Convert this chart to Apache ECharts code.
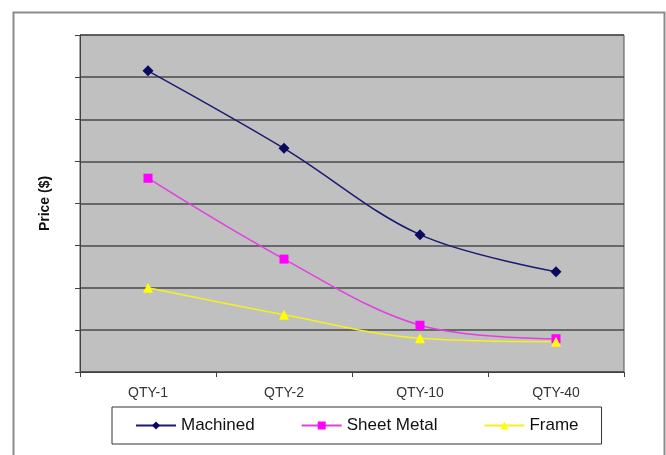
<!DOCTYPE html>
<html>
<head>
<meta charset="utf-8">
<script src="https://cdn.jsdelivr.net/npm/echarts@6/dist/echarts.min.js"></script>
<style>
html,body{margin:0;padding:0;background:#fff;}
#c{width:666px;height:455px;}
</style>
</head>
<body>
<div id="c"></div>
<script>
const categories = ['QTY-1', 'QTY-2', 'QTY-10', 'QTY-40'];
const machined = [7.15, 5.31, 3.26, 2.38];
const sheetMetal = [4.60, 2.68, 1.11, 0.79];
const frame = [2.00, 1.36, 0.80, 0.72];
const seriesNames = ['Machined', 'Sheet Metal', 'Frame'];
const yAxisTitle = 'Price ($)';

const chart = echarts.init(document.getElementById('c'), null, {renderer: 'canvas'});
const font = 'Arial, "Liberation Sans", sans-serif';
chart.setOption({
  animation: false,
  backgroundColor: '#fff',
  graphic: [{
    type: 'rect', left: 11, top: 10, silent: true,
    shape: {width: 651, height: 460},
    style: {fill: 'none', stroke: '#8c8c8c', lineWidth: 2}
  }],
  grid: {
    left: 80, right: 42, top: 35, bottom: 83,
    show: true, backgroundColor: '#c0c0c0', borderColor: '#505050', borderWidth: 1
  },
  legend: {
    left: 112, top: 407,
    padding: [10, 23, 10, 23],
    borderColor: '#333', borderWidth: 1,
    itemWidth: 40, itemHeight: 10, itemGap: 46,
    textStyle: {fontFamily: font, fontSize: 17, color: '#111'},
    data: seriesNames
  },
  xAxis: {
    type: 'category', data: categories, boundaryGap: true,
    axisLine: {lineStyle: {color: '#404040', width: 1}},
    axisTick: {show: true, length: 5, alignWithLabel: false, lineStyle: {color: '#404040'}},
    axisLabel: {fontFamily: font, fontSize: 14, color: '#333', margin: 14}
  },
  yAxis: {
    type: 'value', min: 0, max: 8, interval: 1,
    name: yAxisTitle, nameLocation: 'middle', nameGap: 28, nameRotate: 90,
    nameTextStyle: {fontFamily: font, fontSize: 14, fontWeight: 'bold', color: '#111'},
    axisLine: {show: true, lineStyle: {color: '#404040', width: 1}},
    axisTick: {show: true, length: 5, lineStyle: {color: '#404040'}},
    axisLabel: {show: false},
    splitLine: {show: true, lineStyle: {color: '#4a4a4a', width: 1.5}}
  },
  series: [
    {
      name: seriesNames[0], type: 'line', data: machined, smooth: 0.35,
      symbol: 'diamond', symbolSize: 11,
      lineStyle: {color: '#1a1a70', width: 1.5},
      itemStyle: {color: '#0a0a60'}
    },
    {
      name: seriesNames[1], type: 'line', data: sheetMetal, smooth: 0.35,
      symbol: 'rect', symbolSize: 9,
      lineStyle: {color: '#e040e0', width: 1.5},
      itemStyle: {color: '#ff00ff'}
    },
    {
      name: seriesNames[2], type: 'line', data: frame, smooth: 0.35,
      symbol: 'triangle', symbolSize: 10,
      lineStyle: {color: '#f5f020', width: 1.5},
      itemStyle: {color: '#ffff00'}
    }
  ]
});
</script>
</body>
</html>
